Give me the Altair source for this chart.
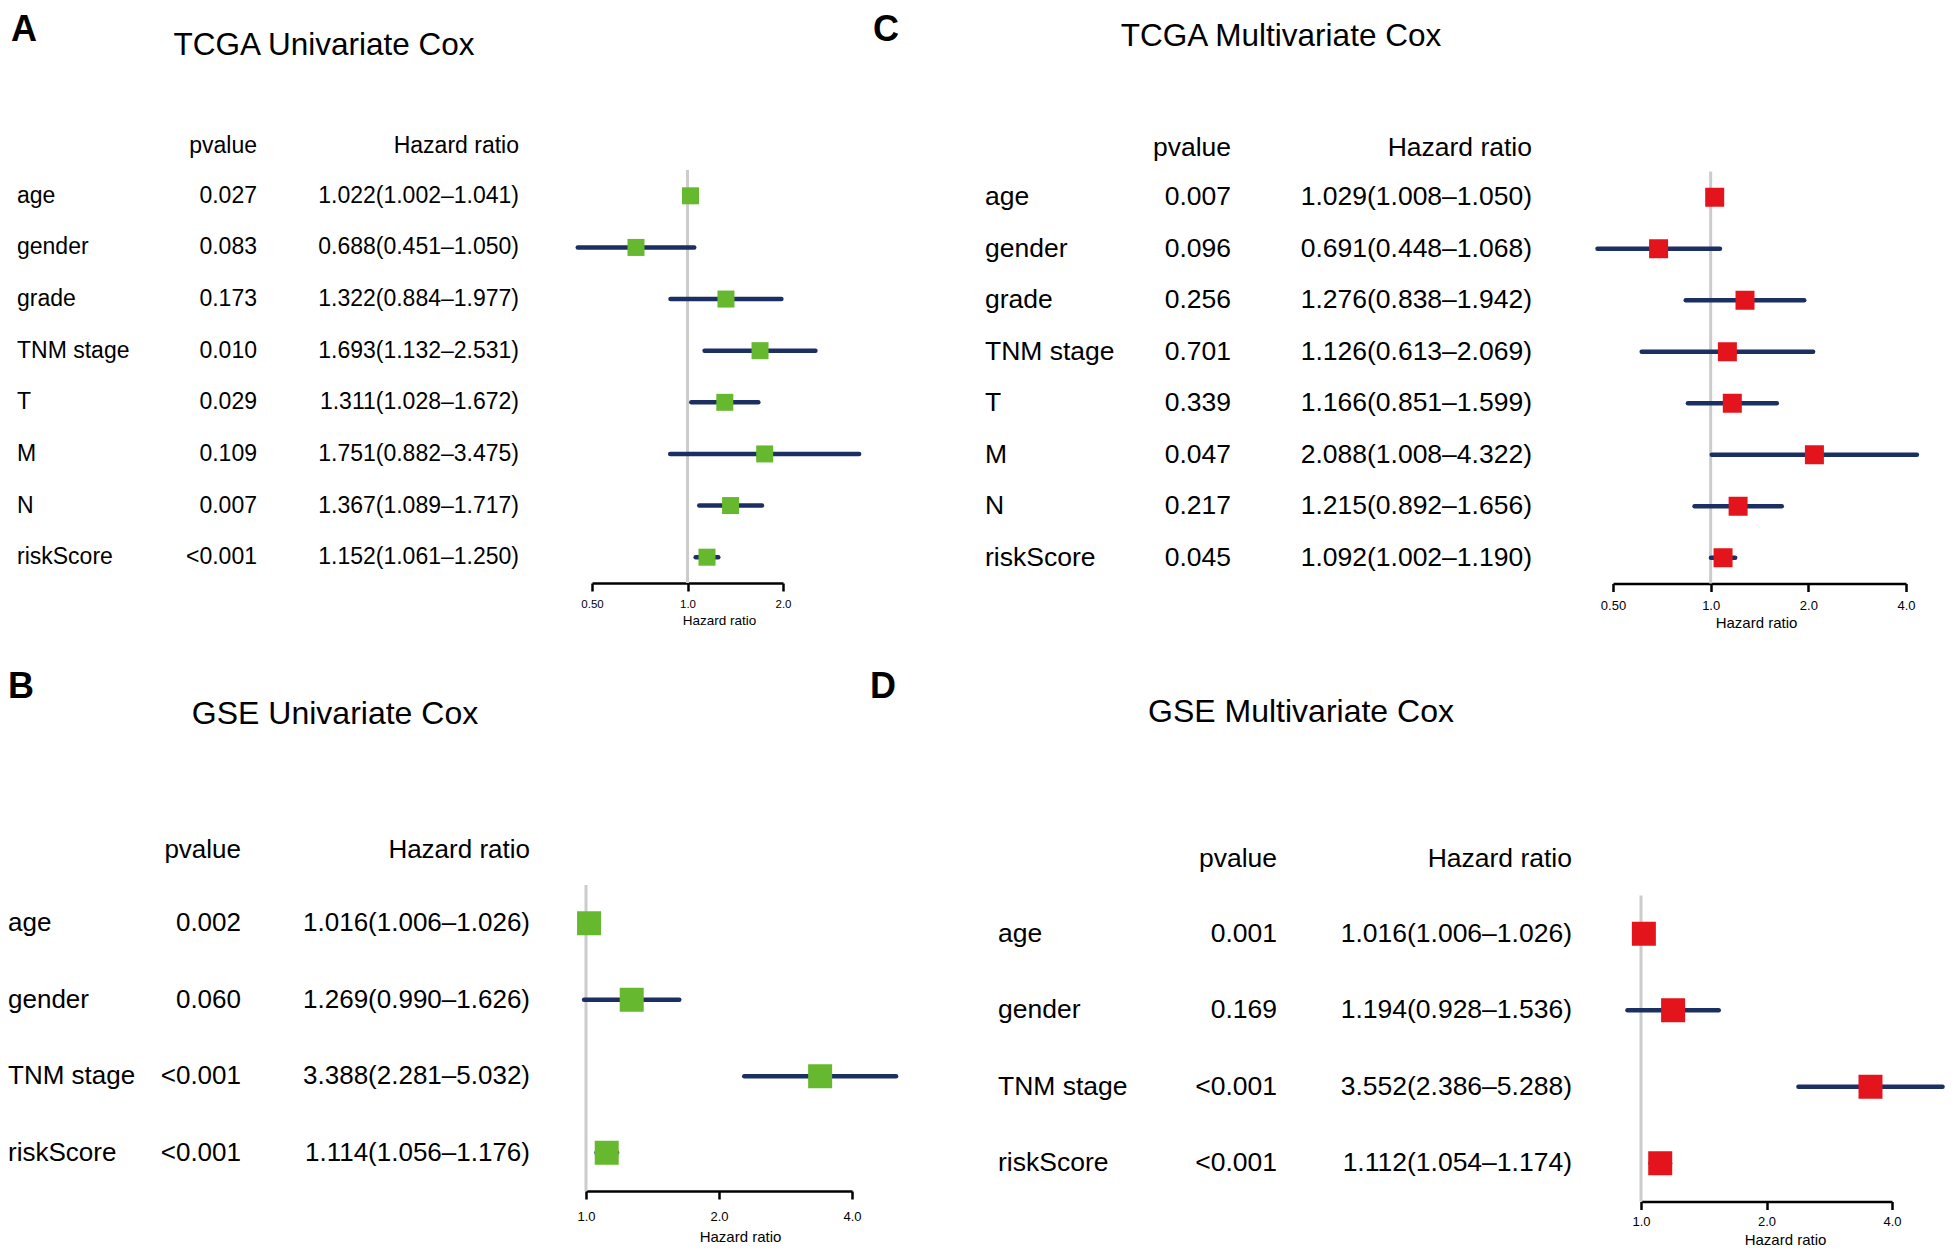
import altair as alt
import pandas as pd

FONT = "Liberation Sans"
NAVY = "#1B2F63"
GREEN = "#66B82E"
RED = "#E3141B"
GREY = "#CCCCCC"

# ---------------- data ----------------
# A: TCGA Univariate Cox
A_vars = ["age", "gender", "grade", "TNM stage", "T", "M", "N", "riskScore"]
A_p = ["0.027", "0.083", "0.173", "0.010", "0.029", "0.109", "0.007", "<0.001"]
A_hr = [1.022, 0.688, 1.322, 1.693, 1.311, 1.751, 1.367, 1.152]
A_lo = [1.002, 0.451, 0.884, 1.132, 1.028, 0.882, 1.089, 1.061]
A_hi = [1.041, 1.050, 1.977, 2.531, 1.672, 3.475, 1.717, 1.250]
A_ticks = [0.5, 1.0, 2.0]

# C: TCGA Multivariate Cox
C_vars = ["age", "gender", "grade", "TNM stage", "T", "M", "N", "riskScore"]
C_p = ["0.007", "0.096", "0.256", "0.701", "0.339", "0.047", "0.217", "0.045"]
C_hr = [1.029, 0.691, 1.276, 1.126, 1.166, 2.088, 1.215, 1.092]
C_lo = [1.008, 0.448, 0.838, 0.613, 0.851, 1.008, 0.892, 1.002]
C_hi = [1.050, 1.068, 1.942, 2.069, 1.599, 4.322, 1.656, 1.190]
C_ticks = [0.5, 1.0, 2.0, 4.0]

# B: GSE Univariate Cox
B_vars = ["age", "gender", "TNM stage", "riskScore"]
B_p = ["0.002", "0.060", "<0.001", "<0.001"]
B_hr = [1.016, 1.269, 3.388, 1.114]
B_lo = [1.006, 0.990, 2.281, 1.056]
B_hi = [1.026, 1.626, 5.032, 1.176]
B_ticks = [1.0, 2.0, 4.0]

# D: GSE Multivariate Cox
D_vars = ["age", "gender", "TNM stage", "riskScore"]
D_p = ["0.001", "0.169", "<0.001", "<0.001"]
D_hr = [1.016, 1.194, 3.552, 1.112]
D_lo = [1.006, 0.928, 2.386, 1.054]
D_hi = [1.026, 1.536, 5.288, 1.174]
D_ticks = [1.0, 2.0, 4.0]

LABEL_EXPR = "datum.value < 1 ? format(datum.value, '.2f') : format(datum.value, '.1f')"


def panel(letters, title, vars_, p, hr, lo, hi, ticks, color, L):
    n = len(vars_)
    df = pd.DataFrame({"idx": list(range(n)), "var": vars_, "p": p,
                       "hr": hr, "lo": lo, "hi": hi})
    df["label"] = [f"{h:.3f}({a:.3f}\u2013{b:.3f})" for h, a, b in zip(hr, lo, hi)]

    xscale = alt.Scale(type="log", domain=[ticks[0], ticks[-1]], range=L["xr"], nice=False)
    yscale = alt.Scale(domain=[-0.5, n - 0.5], range=L["yr"], nice=False, zero=False)
    axis = alt.Axis(values=ticks, labelExpr=LABEL_EXPR, title="Hazard ratio", grid=False,
                    domainColor="black", domainWidth=2.5, tickColor="black", tickWidth=2.5,
                    tickSize=8, labelFont=FONT, labelFontSize=L["tf"], labelColor="black",
                    labelPadding=L["lp"], labelFlush=False, labelOverlap=False,
                    titleFont=FONT, titleFontSize=L["ttf"], titleFontWeight="normal",
                    titleColor="black", titleX=L["tx"], titleY=L["ty"], titleBaseline="middle",
                    offset=L["yr"][1] - L["h"])

    def X(field):
        return alt.X(field, scale=xscale, axis=axis)

    def Y(field):
        return alt.Y(field, scale=yscale, axis=None)

    refdf = pd.DataFrame({"ref": [1.0], "y0": [-0.5], "y1": [n - 0.5]})
    ref = alt.Chart(refdf).mark_rule(color=GREY, strokeWidth=3).encode(
        x=X("ref:Q"), y=Y("y0:Q"), y2="y1:Q")
    base = alt.Chart(df)
    ci = base.mark_rule(color=NAVY, strokeWidth=4.5, strokeCap="round").encode(
        x=X("lo:Q"), x2="hi:Q", y=Y("idx:Q"))
    sq = base.mark_square(size=L["sq"], color=color, filled=True, opacity=1, strokeWidth=0).encode(
        x=X("hr:Q"), y=Y("idx:Q"))

    txt = dict(font=FONT, fontSize=L["fs"], color="black", baseline="middle")
    tv = base.mark_text(align="left", **txt).encode(x=alt.value(L["xv"]), y=Y("idx:Q"), text="var:N")
    tp = base.mark_text(align="right", **txt).encode(x=alt.value(L["xp"]), y=Y("idx:Q"), text="p:N")
    th = base.mark_text(align="right", **txt).encode(x=alt.value(L["xh"]), y=Y("idx:Q"), text="label:N")

    one = pd.DataFrame({"pv": ["pvalue"], "hz": ["Hazard ratio"], "title": [title]})
    h1 = alt.Chart(one).mark_text(align="right", **txt).encode(
        x=alt.value(L["xp"]), y=alt.value(L["hy"]), text="pv:N")
    h2 = alt.Chart(one).mark_text(align="right", **txt).encode(
        x=alt.value(L["xh"]), y=alt.value(L["hy"]), text="hz:N")
    tt = alt.Chart(one).mark_text(align="center", baseline="middle", font=FONT,
                                  fontSize=L["tfs"], color="black").encode(
        x=alt.value(L["tix"]), y=alt.value(L["tiy"]), text="title:N")

    layers = [ref, ci, sq, tv, tp, th, h1, h2, tt]
    for ch, lx, ly in letters:
        ldf = pd.DataFrame({"letter": [ch]})
        layers.append(alt.Chart(ldf).mark_text(align="left", baseline="top", font=FONT,
                                               fontWeight="bold", fontSize=36, color="black").encode(
            x=alt.value(lx), y=alt.value(ly), text="letter:N"))

    return alt.layer(*layers).properties(width=L["w"], height=L["h"])


# layout (pixels, panel-local)
LA = dict(w=860, h=660, xr=[584, 775], yr=[162, 575], tf=11.5, ttf=13.5, lp=7, tx=711, ty=37,
          sq=289, fs=23, xv=9, xp=249, xh=511, hy=138, tfs=31.5, tix=316, tiy=38)
LC = dict(w=1078, h=660, xr=[745, 1038], yr=[163.5, 575.5], tf=13, ttf=15, lp=8, tx=888, ty=39,
          sq=361, fs=26.5, xv=117, xp=363, xh=664, hy=140, tfs=31.5, tix=413, tiy=29)
LB = dict(w=900, h=580, xr=[578, 844], yr=[217, 523], tf=13, ttf=15, lp=11, tx=732, ty=45,
          sq=576, fs=26, xv=0, xp=233, xh=522, hy=182, tfs=32, tix=327, tiy=46)
LD = dict(w=1038, h=580, xr=[733, 984], yr=[227.5, 533.5], tf=13, ttf=15, lp=6, tx=877, ty=38,
          sq=576, fs=26.5, xv=90, xp=369, xh=664, hy=191, tfs=32, tix=393, tiy=44)

pA = panel([("A", 3, 5)], "TCGA Univariate Cox", A_vars, A_p, A_hr, A_lo, A_hi, A_ticks, GREEN, LA)
pC = panel([("C", 5, 5)], "TCGA Multivariate Cox", C_vars, C_p, C_hr, C_lo, C_hi, C_ticks, RED, LC)
pB = panel([("B", 0, 2), ("D", 862, 2)], "GSE Univariate Cox", B_vars, B_p, B_hr, B_lo, B_hi,
           B_ticks, GREEN, LB)
pD = panel([], "GSE Multivariate Cox", D_vars, D_p, D_hr, D_lo, D_hi, D_ticks, RED, LD)

chart = alt.vconcat(
    alt.hconcat(pA, pC, spacing=0),
    alt.hconcat(pB, pD, spacing=0),
    spacing=0,
).properties(padding=0, background="white").configure_view(stroke=None).configure_concat(spacing=0)

chart.save("out.html", embed_options={"renderer": "svg", "actions": False})
